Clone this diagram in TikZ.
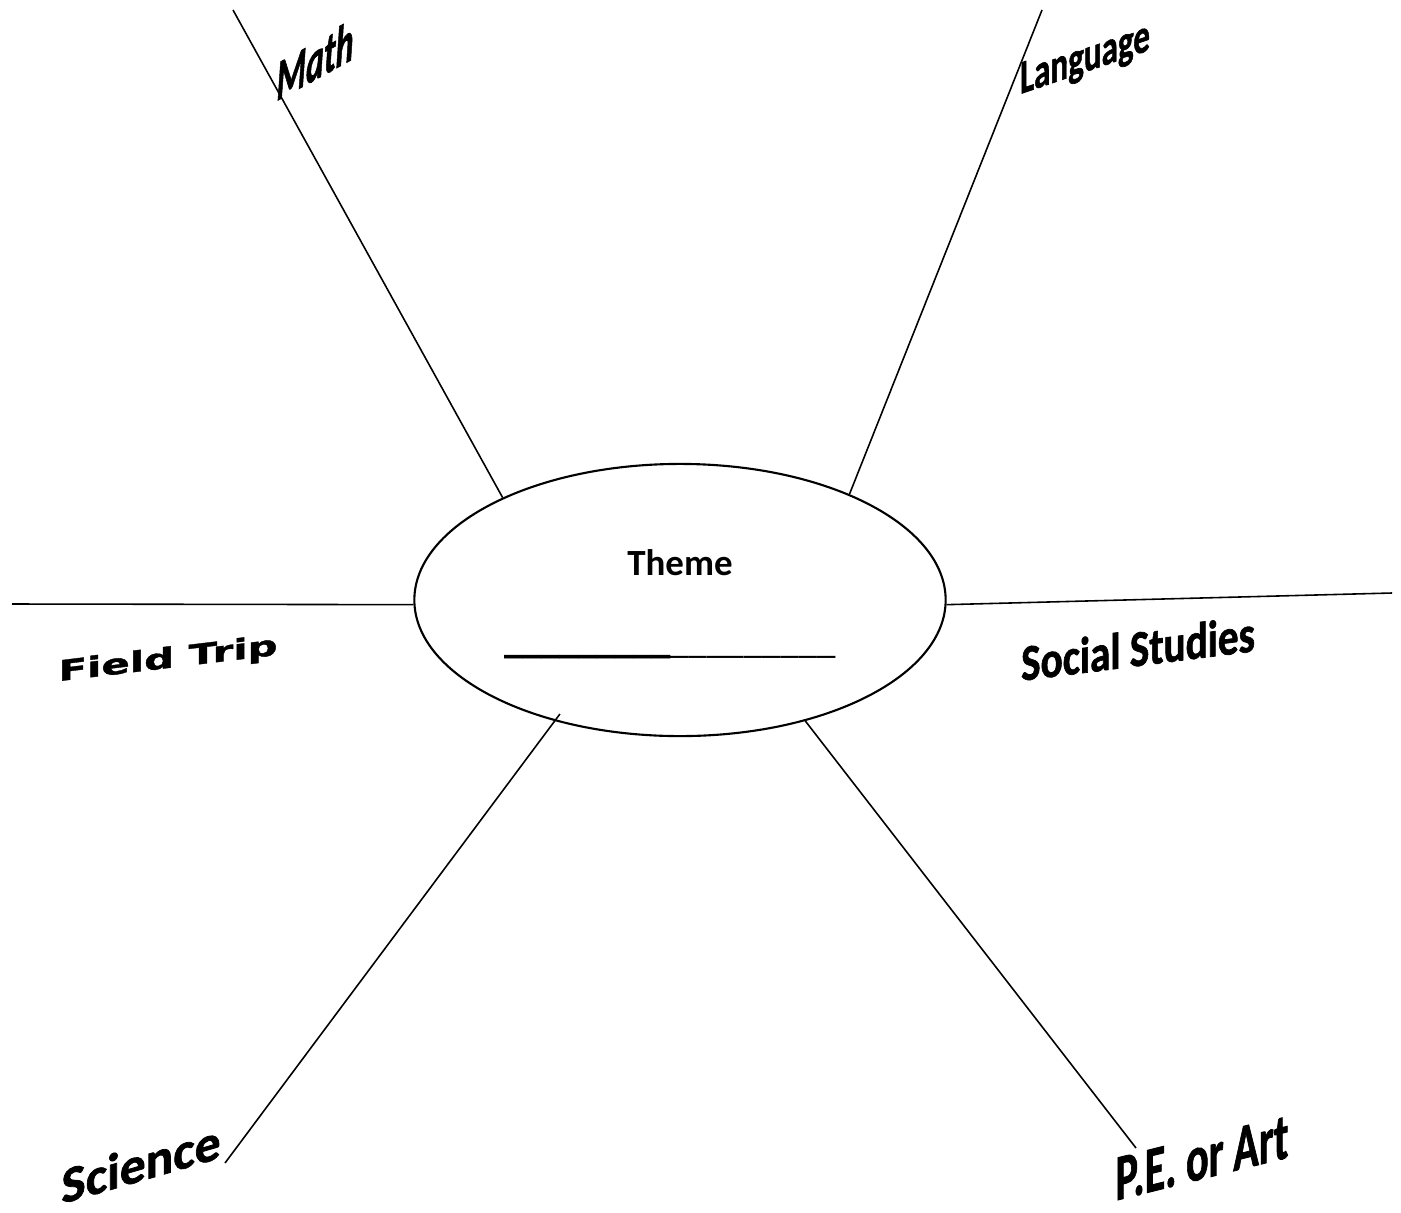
\documentclass[tikz,border=0pt]{standalone}
\usepackage{fontspec}
\setmainfont{Carlito}
\newfontfamily\artfont{Carlito}[BoldFeatures={FakeBold=1.4}, BoldItalicFeatures={FakeBold=1.4}]
\newfontfamily\widefont{DejaVu Sans}[BoldFeatures={FakeBold=1.2}]
\usetikzlibrary{shapes.geometric}
\begin{document}
\begin{tikzpicture}[x=0.01cm, y=-0.01cm,
		spoke/.style={line width=0.45pt},
		lbl/.style={anchor=base, inner sep=0pt}]
			\useasboundingbox (0,0) rectangle (1401,1212);
			\node[draw, line width=0.6pt, ellipse, minimum width=5.31cm, minimum height=2.72cm] (theme) at (680,600) {};
			\node[font=\bfseries\fontsize{10.5}{12}\selectfont] (themetxt) at (680,563) {Theme};
			\node[anchor=base, inner sep=0pt, font=\fontsize{10.5}{12}\selectfont] (themeline) at (670,653) {{\artfont\bfseries\_\_\_\_\_\_\_\_\_}\_\_\_\_\_\_\_\_\_};
			\coordinate (mathend) at (233,10);
			\coordinate (langend) at (1042,10);
			\coordinate (fieldend) at (12,604);
			\coordinate (socialend) at (1392,593);
			\coordinate (sciend) at (225,1163);
			\coordinate (peend) at (1136,1148);
			\foreach \a/\e in {150/mathend,32/langend,181/fieldend,359/socialend,316/peend}{
				\draw[spoke] (theme.\a) -- (\e);
			}
			\draw[spoke, shorten <=-2.5pt] (theme.224) -- (sciend);
			\node[lbl, font=\artfont\bfseries\itshape\fontsize{9.6}{11}\selectfont, yslant=0.55, yscale=1.7] (mathlbl) at (315,80) {Math};
			\node[lbl, font=\artfont\bfseries\fontsize{9.4}{11}\selectfont, yslant=0.34, yscale=1.45] (langlbl) at (1085,72) {Language};
			\node[lbl, font=\widefont\bfseries\fontsize{7}{9}\selectfont, yslant=0.12, xscale=1.7, yscale=1.15] (fieldlbl) at (168,668) {Field Trip};
			\node[lbl, font=\artfont\bfseries\fontsize{11.7}{13}\selectfont, yslant=0.127, yscale=1.25] (sociallbl) at (1138,666) {Social Studies};
			\node[lbl, font=\artfont\bfseries\fontsize{14.6}{16}\selectfont, yslant=0.29] (scilbl) at (141,1181) {Science};
			\node[lbl, font=\artfont\bfseries\fontsize{12}{14}\selectfont, yslant=0.25, yscale=1.55] (pelbl) at (1202,1179) {P.E. or Art};
		\end{tikzpicture}
\end{document}
